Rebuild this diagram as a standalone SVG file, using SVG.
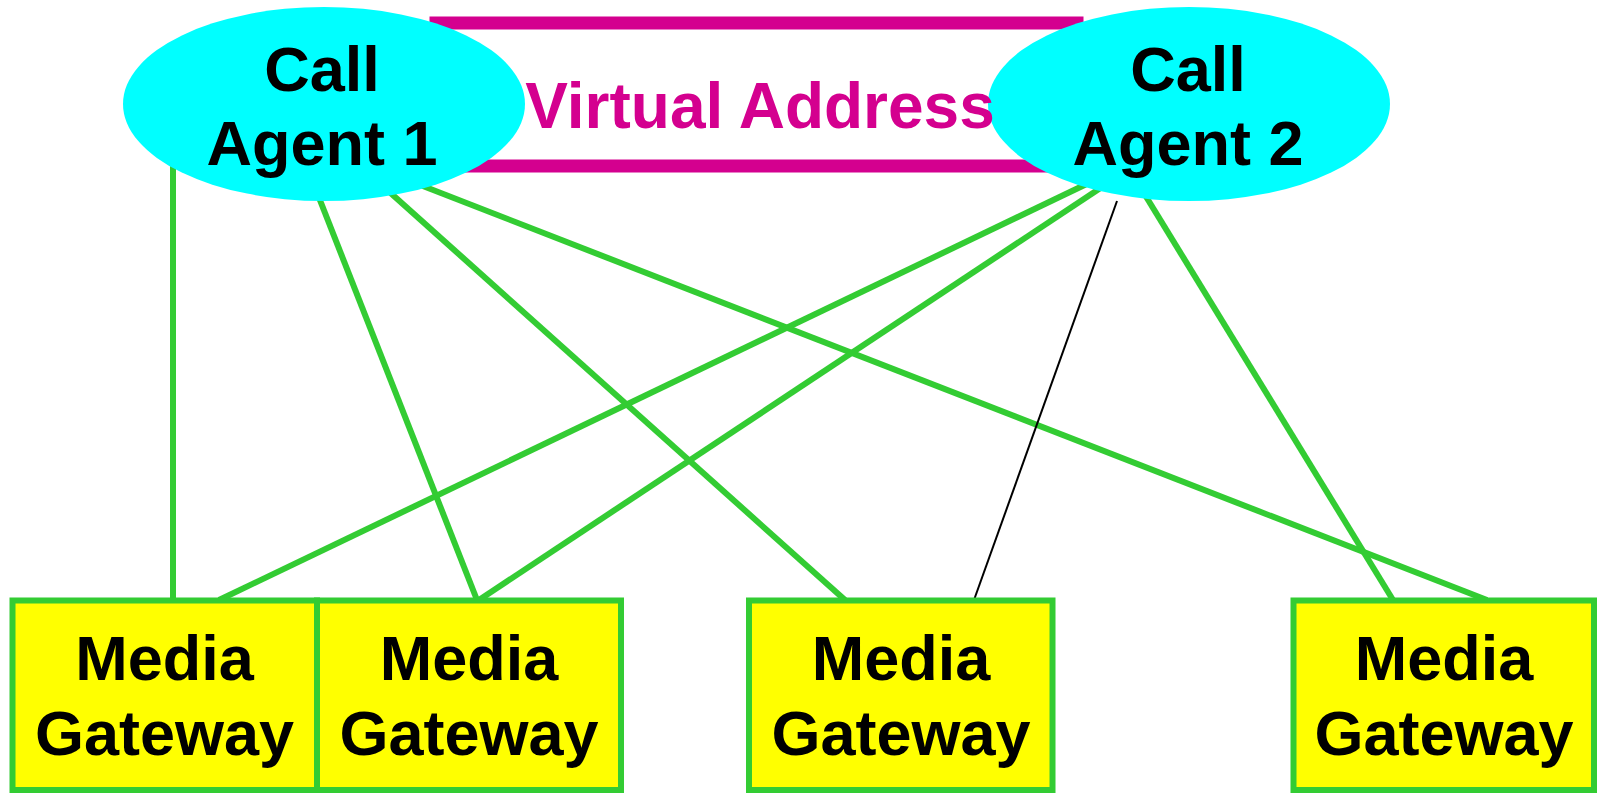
<svg xmlns="http://www.w3.org/2000/svg" width="1597" height="793" viewBox="0 0 1597 793">
  <style>
    .link { stroke: #33CC33; stroke-width: 6; fill: none; }
    .thin { stroke: #000000; stroke-width: 2; fill: none; }
    .agent { fill: #00FFFF; stroke: none; }
    .gw { fill: #FFFF00; stroke: #33CC33; stroke-width: 6; }
    .lbl { font-family: "Liberation Sans", Arial, sans-serif; font-weight: bold; font-size: 63px; fill: #000000; text-anchor: middle; }
    .va { font-family: "Liberation Sans", Arial, sans-serif; font-weight: bold; font-size: 64px; fill: #D4008F; text-anchor: middle; }
  </style>

  <!-- shared virtual address frame -->
  <g id="virtual-address">
    <rect x="436" y="23" width="641" height="143" fill="#FFFFFF" stroke="#D4008F" stroke-width="13"/>
  </g>

  <!-- connectors -->
  <g id="connectors">
    <line class="link" x1="173" y1="150" x2="173" y2="600"/>
    <line class="link" x1="316" y1="190" x2="477" y2="600"/>
    <line class="link" x1="385" y1="188" x2="845" y2="600"/>
    <line class="link" x1="410" y1="181" x2="1487" y2="600"/>
    <line class="link" x1="1095" y1="180" x2="219" y2="600"/>
    <line class="link" x1="1108" y1="183" x2="479" y2="600"/>
    <line class="thin" x1="1117" y1="201" x2="974" y2="600"/>
    <line class="link" x1="1142" y1="190" x2="1393" y2="600"/>
  </g>

  <g id="call-agent-1">
    <ellipse class="agent" cx="324" cy="104" rx="201" ry="97"/>
    <text class="lbl" x="322" y="91">Call</text>
    <text class="lbl" x="322" y="165">Agent 1</text>
  </g>

  <g id="call-agent-2">
    <ellipse class="agent" cx="1189" cy="104" rx="201" ry="97"/>
    <text class="lbl" x="1188" y="91">Call</text>
    <text class="lbl" x="1188" y="165">Agent 2</text>
  </g>

  <text class="va" x="760" y="128">Virtual Address</text>

  <g id="media-gateway-1">
    <rect class="gw" x="12.5" y="600.5" width="304.5" height="189.5"/>
    <text class="lbl" x="164.5" y="680">Media</text>
    <text class="lbl" x="164.5" y="755">Gateway</text>
  </g>

  <g id="media-gateway-2">
    <rect class="gw" x="317" y="600.5" width="304" height="189.5"/>
    <text class="lbl" x="469" y="680">Media</text>
    <text class="lbl" x="469" y="755">Gateway</text>
  </g>

  <g id="media-gateway-3">
    <rect class="gw" x="749" y="600.5" width="303.5" height="189.5"/>
    <text class="lbl" x="901" y="680">Media</text>
    <text class="lbl" x="901" y="755">Gateway</text>
  </g>

  <g id="media-gateway-4">
    <rect class="gw" x="1293.5" y="600.5" width="300.5" height="189.5"/>
    <text class="lbl" x="1444" y="680">Media</text>
    <text class="lbl" x="1444" y="755">Gateway</text>
  </g>
</svg>
